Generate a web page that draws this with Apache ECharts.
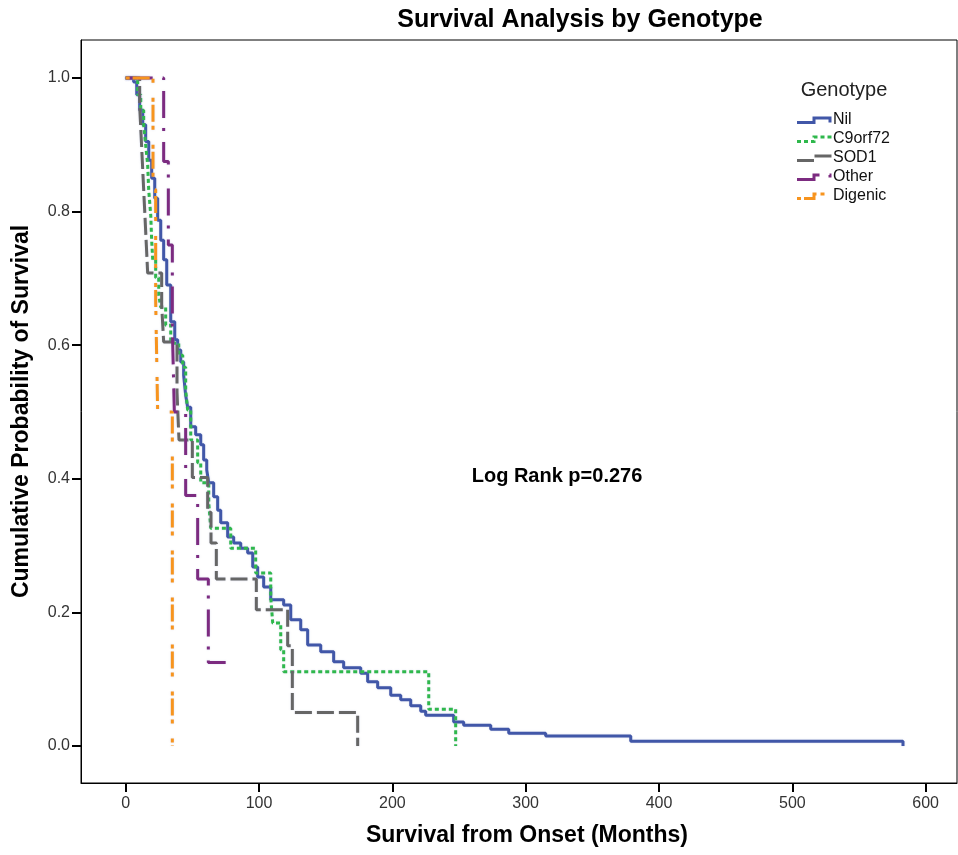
<!DOCTYPE html>
<html>
<head>
<meta charset="utf-8">
<title>Survival Analysis by Genotype</title>
<script src="https://cdn.jsdelivr.net/npm/echarts@6/dist/echarts.min.js"></script>
<style>
html, body { margin: 0; padding: 0; background: #fff; }
#chart { width: 958px; height: 855px; }
</style>
</head>
<body>
<div id="chart"></div>
<script>
// Kaplan-Meier steps: [months, survival after the event]
const nilSteps = [
  [0, 1], [6, 0.994], [8.3, 0.975], [10.5, 0.952], [12.8, 0.93], [15, 0.905],
  [17.3, 0.877], [19.5, 0.85], [21.8, 0.82], [24, 0.787], [26.3, 0.757],
  [28.5, 0.728], [30.8, 0.69], [33.8, 0.635], [36.8, 0.608], [39, 0.593],
  [41.3, 0.575], [43.5, 0.555], [45, 0.525], [46.5, 0.507], [48.8, 0.478],
  [52.5, 0.466], [56.3, 0.451], [58.5, 0.428], [60.8, 0.413], [62.3, 0.394],
  [66, 0.373], [69, 0.353], [71.3, 0.334], [76.5, 0.313], [81, 0.304],
  [86.3, 0.296], [91.5, 0.289], [95.3, 0.268], [99, 0.253], [103.5, 0.238],
  [108.8, 0.219], [118.5, 0.211], [123.8, 0.189], [131.3, 0.174], [136.5, 0.151],
  [146.3, 0.141], [156, 0.126], [163.5, 0.117], [176.3, 0.109], [181.5, 0.096],
  [189, 0.087], [198.8, 0.076], [206.3, 0.069], [213.8, 0.06], [221.3, 0.052],
  [225, 0.046], [246, 0.036], [253.5, 0.031], [273.8, 0.025], [287.3, 0.019],
  [315, 0.015], [378.8, 0.007], [583, 0]
];
const c9orf72Steps = [
  [0, 1], [9, 0.975], [11.3, 0.952], [13.5, 0.93], [15, 0.9], [16.5, 0.87],
  [17.3, 0.832], [18.8, 0.795], [19.5, 0.757], [20.3, 0.728], [22.5, 0.701],
  [24.8, 0.675], [26.3, 0.657], [30, 0.63], [33.8, 0.603], [39.8, 0.585],
  [42.8, 0.567], [45, 0.533], [46.5, 0.503], [48.8, 0.458], [54, 0.424],
  [56.3, 0.394], [62.3, 0.364], [63.8, 0.326], [78.8, 0.296], [97.5, 0.259],
  [108.8, 0.222], [110.3, 0.184], [116.3, 0.144], [118.5, 0.111],
  [227.3, 0.055], [247.5, 0]
];
const sod1Steps = [
  [0, 1], [10.5, 0.958], [11.5, 0.917], [12.5, 0.875], [13.5, 0.833],
  [14.5, 0.792], [15.5, 0.75], [16.5, 0.708], [27, 0.66], [28.5, 0.605],
  [38.5, 0.53], [40, 0.458], [50, 0.402], [61.5, 0.35], [64, 0.304],
  [68, 0.25], [98, 0.204], [121.5, 0.15], [125, 0.05], [174, 0]
];
const otherSteps = [
  [0, 1], [28.5, 0.875], [32, 0.75], [35, 0.625], [36.5, 0.5], [45, 0.375],
  [54, 0.25], [62, 0.125], [75, 0.125]
];
const digenicSteps = [
  [0, 1], [20.5, 0.833], [22.5, 0.667], [24, 0.5], [35, 0]
];

const genotypes = ['Nil', 'C9orf72', 'SOD1', 'Other', 'Digenic'];
const xTicks = [0, 100, 200, 300, 400, 500, 600];
const yTicks = [0, 0.2, 0.4, 0.6, 0.8, 1.0];

const colors = ['#4157a8', '#2fb84c', '#666666', '#7c2b80', '#f7941e'];
const dashes = ['solid', [4, 3], [17, 5], [27, 10, 3, 11], [4, 3, 17, 4, 4, 15]];
const stepData = [nilSteps, c9orf72Steps, sod1Steps, otherSteps, digenicSteps];

const font = 'Liberation Sans, Arial, sans-serif';

const chart = echarts.init(document.getElementById('chart'));

const series = genotypes.map((name, i) => ({
  name: name,
  type: 'line',
  step: 'end',
  symbol: 'none',
  data: stepData[i],
  lineStyle: {
    color: colors[i],
    width: 3,
    type: dashes[i],
    cap: 'butt',
    shadowColor: 'rgba(150,160,210,0.35)',
    shadowBlur: 2
  },
  emphasis: { disabled: true },
  z: 2 + i
}));

// hand-made legend with step shaped keys, like the figure
const legendGraphics = [{
  type: 'text',
  x: 844, y: 90,
  style: { text: 'Genotype', font: '20px ' + font, fill: '#222', align: 'center', verticalAlign: 'middle' }
}];
genotypes.forEach((name, i) => {
  const cy = 120 + i * 19;
  legendGraphics.push({
    type: 'polyline',
    shape: { points: [[797, cy + 2.5], [814, cy + 2.5], [814, cy - 2], [830, cy - 2], [830, cy + 2.5]] },
    style: {
      stroke: colors[i], lineWidth: 3, fill: null,
      lineDash: dashes[i] === 'solid' ? null : dashes[i]
    }
  });
  legendGraphics.push({
    type: 'text',
    x: 833, y: cy,
    style: { text: name, font: '16px ' + font, fill: '#111', align: 'left', verticalAlign: 'middle' }
  });
});

const option = {
  animation: false,
  backgroundColor: '#fff',
  grid: {
    left: 81, right: 1, top: 40, bottom: 72,
    show: true, borderColor: '#000', borderWidth: 1
  },
  xAxis: {
    type: 'value',
    min: -33.5, max: 623.5,
    name: 'Survival from Onset (Months)',
    nameLocation: 'middle',
    nameGap: 41,
    nameTextStyle: {
      fontFamily: font, fontSize: 23, fontWeight: 'bold', color: '#000',
      padding: [0, 0, 0, 16]
    },
    axisLine: { show: true, onZero: false, lineStyle: { color: '#000', width: 1 } },
    axisTick: { show: true, length: 9, lineStyle: { color: '#000', width: 2 }, customValues: xTicks },
    axisLabel: { fontFamily: font, fontSize: 16, color: '#333', margin: 13, customValues: xTicks },
    splitLine: { show: false }
  },
  yAxis: {
    type: 'value',
    min: -0.0555, max: 1.057,
    name: 'Cumulative Probability of Survival',
    nameLocation: 'middle',
    nameGap: 48,
    nameTextStyle: { fontFamily: font, fontSize: 23, fontWeight: 'bold', color: '#000' },
    axisLine: { show: true, onZero: false, lineStyle: { color: '#000', width: 1 } },
    axisTick: { show: true, length: 9, lineStyle: { color: '#000', width: 2 }, customValues: yTicks },
    axisLabel: {
      fontFamily: font, fontSize: 16, color: '#333', margin: 11,
      customValues: yTicks,
      formatter: v => v.toFixed(1)
    },
    splitLine: { show: false }
  },
  graphic: [
    {
      type: 'text',
      x: 580, y: 20,
      style: {
        text: 'Survival Analysis by Genotype', font: 'bold 25px ' + font, fill: '#000',
        align: 'center', verticalAlign: 'middle'
      }
    },
    {
      type: 'text',
      x: 557, y: 476,
      style: {
        text: 'Log Rank p=0.276', font: 'bold 20px ' + font, fill: '#000',
        align: 'center', verticalAlign: 'middle'
      }
    }
  ].concat(legendGraphics),
  series: series
};

chart.setOption(option);
</script>
</body>
</html>
